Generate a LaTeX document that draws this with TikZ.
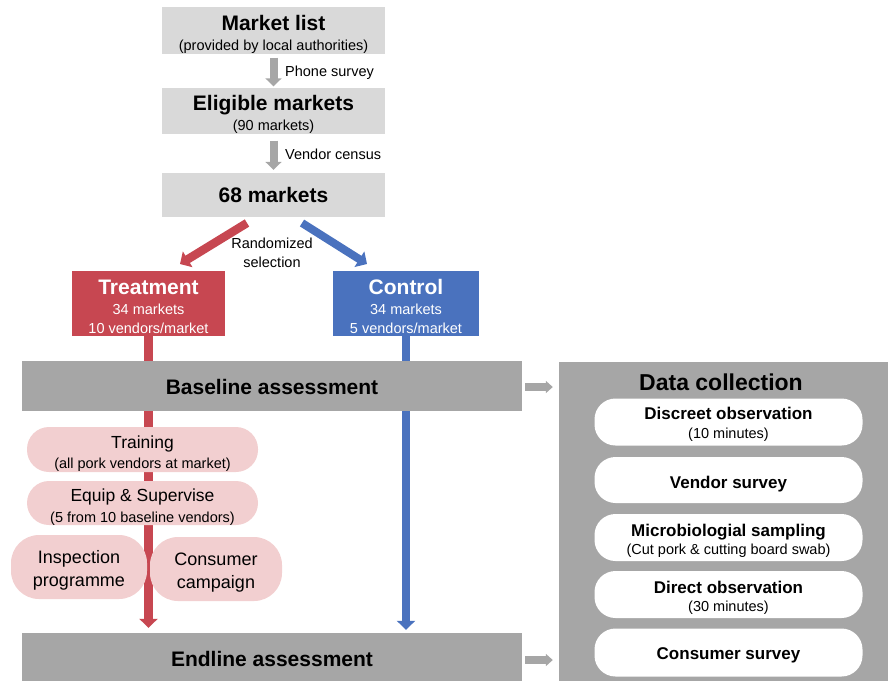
\documentclass[tikz,border=0pt]{standalone}
\usepackage{fontspec}
\setmainfont{Liberation Sans}
\usetikzlibrary{arrows.meta}
\definecolor{lgray}{HTML}{D9D9D9}
\definecolor{dgray}{HTML}{A6A6A6}
\definecolor{tred}{HTML}{C74751}
\definecolor{cblue}{HTML}{4A72BE}
\definecolor{lpink}{HTML}{F2CFD0}
\newcommand{\fsz}[2]{\fontsize{#1}{#2}\selectfont}
\newcommand{\tup}[1]{\rule{0pt}{#1}}
\pgfdeclarelayer{bg}
\pgfsetlayers{bg,main}
\begin{document}
\begin{tikzpicture}[x=1pt,y=-1pt,
  topbox/.style={fill=lgray, minimum width=223pt, inner sep=0pt, align=center, font=\fsz{14.5}{20}},
  groupbox/.style={minimum height=65pt, inner sep=0pt, align=center, text=white, font=\fsz{14.5}{19.5}},
  phasebox/.style={fill=dgray, minimum width=500pt, inner sep=0pt, font=\fsz{21}{22}\bfseries},
  pinkbox/.style={fill=lpink, rounded corners=22pt, inner sep=0pt, align=center, font=\fsz{14.5}{20.5}},
  whitebox/.style={fill=white, rounded corners=21pt, minimum width=268pt, inner sep=0pt, align=center, font=\fsz{14.5}{18.5}},
  lbl/.style={font=\fsz{14.5}{18.5}, align=center, inner sep=0pt},
  grayv/.style={draw=dgray, line width=8pt, -{Triangle[width=16pt,length=8pt]}},
  grayh/.style={draw=dgray, line width=8pt, -{Triangle[width=12pt,length=7pt]}},
  redarr/.style={draw=tred, line width=8.5pt, -{Triangle[width=18pt,length=9pt]}},
  bluearr/.style={draw=cblue, line width=8pt, -{Triangle[width=18pt,length=9pt]}},
]
\useasboundingbox (0,0) rectangle (888,681);

% top chain
\node[topbox, minimum height=45pt] (mlist) at (273.5,30.5)
  {{\fsz{21}{20}\bfseries\tup{23pt}Market list}\\(provided by local authorities)};
\node[topbox, minimum height=44pt] (elig) at (273.5,110.5)
  {{\fsz{21}{20}\bfseries\tup{23pt}Eligible markets}\\(90 markets)};
\node[topbox, minimum height=44pt, font=\fsz{21}{22}\bfseries] (m68) at (273.5,195) {68 markets};

\node[lbl, anchor=west] (phone) at (285,73) {Phone survey};
\node[lbl, anchor=west] (census) at (285,154) {Vendor census};
\node[lbl] (rand) at (272,253) {Randomized\\selection};

% groups
\node[groupbox, fill=tred, minimum width=153pt] (treat) at (148.5,303.5)
  {{\fsz{21}{20}\bfseries\tup{22pt}Treatment}\\34 markets\\10 vendors/market};
\node[groupbox, fill=cblue, minimum width=146pt] (ctrl) at (406,303.5)
  {{\fsz{21}{20}\bfseries\tup{22pt}Control}\\34 markets\\5 vendors/market};

% phases
\node[phasebox, minimum height=50pt] (base) at (272,386) {\tup{17pt}Baseline assessment};
\node[phasebox, minimum height=48pt] (endl) at (272,657) {\tup{19pt}Endline assessment};

% interventions
\node[pinkbox, minimum width=231pt, minimum height=45pt] (train) at (142.5,449.5)
  {{\fsz{17.5}{18}\tup{20.5pt}Training}\\(all pork vendors at market)};
\node[pinkbox, minimum width=231pt, minimum height=44pt] (equip) at (142.5,503)
  {{\fsz{17.5}{18}\tup{20.5pt}Equip \& Supervise}\\(5 from 10 baseline vendors)};
\node[pinkbox, minimum width=136pt, minimum height=64pt, rounded corners=28pt, font=\fsz{18}{23}] (insp) at (79,567)
  {\tup{19pt}Inspection\\programme};
\node[pinkbox, minimum width=132pt, minimum height=64pt, rounded corners=28pt, font=\fsz{18}{23}] (camp) at (216,569)
  {\tup{19.5pt}Consumer\\campaign};

% data collection
\node[fill=dgray, minimum width=329pt, minimum height=319pt, inner sep=0pt] (dc) at (723.5,521.5) {};
\node[font=\fsz{23}{24}\bfseries, inner sep=0pt] (dctitle) at (721,382) {Data collection};
\node[whitebox, minimum height=47pt] (disc) at (728.5,422)
  {{\fsz{17}{18}\bfseries\tup{17pt}Discreet observation}\\(10 minutes)};
\node[whitebox, minimum height=46pt, font=\fsz{17}{18}\bfseries] (vsur) at (728.5,480) {\tup{20.5pt}Vendor survey};
\node[whitebox, minimum height=47pt] (micro) at (728.5,537.5)
  {{\fsz{17}{18}\bfseries\tup{19pt}Microbiologial sampling}\\(Cut pork \& cutting board swab)};
\node[whitebox, minimum height=47pt] (direct) at (728.5,594.5)
  {{\fsz{17}{18}\bfseries\tup{19pt}Direct observation}\\(30 minutes)};
\node[whitebox, minimum height=48pt, font=\fsz{17}{18}\bfseries] (csur) at (728.5,652.5) {\tup{16.5pt}Consumer survey};

% connectors
\coordinate (rs) at (247,223);
\coordinate (re) at (180,264);
\coordinate (bs) at (302,223);
\coordinate (be) at (367,264);
\begin{pgfonlayer}{bg}
  \draw[grayv, shorten <=4pt, shorten >=1pt] (mlist.south) -- (elig.north);
  \draw[grayv, shorten <=7pt, shorten >=3pt] (elig.south) -- (m68.north);
  \draw[redarr] (rs) -- (re);
  \draw[bluearr] (bs) -- (be);
  \draw[redarr, shorten >=5pt] (treat.south) -- (treat.south |- endl.north);
  \draw[bluearr, shorten >=3pt] (ctrl.south) -- (ctrl.south |- endl.north);
  \draw[grayh, shorten <=3pt, shorten >=6pt] ([yshift=-1pt]base.east) -- ([yshift=-1pt]base.east -| dc.west);
  \draw[grayh, shorten <=3pt, shorten >=6pt] ([yshift=-3pt]endl.east) -- ([yshift=-3pt]endl.east -| dc.west);
\end{pgfonlayer}
\end{tikzpicture}
\end{document}
